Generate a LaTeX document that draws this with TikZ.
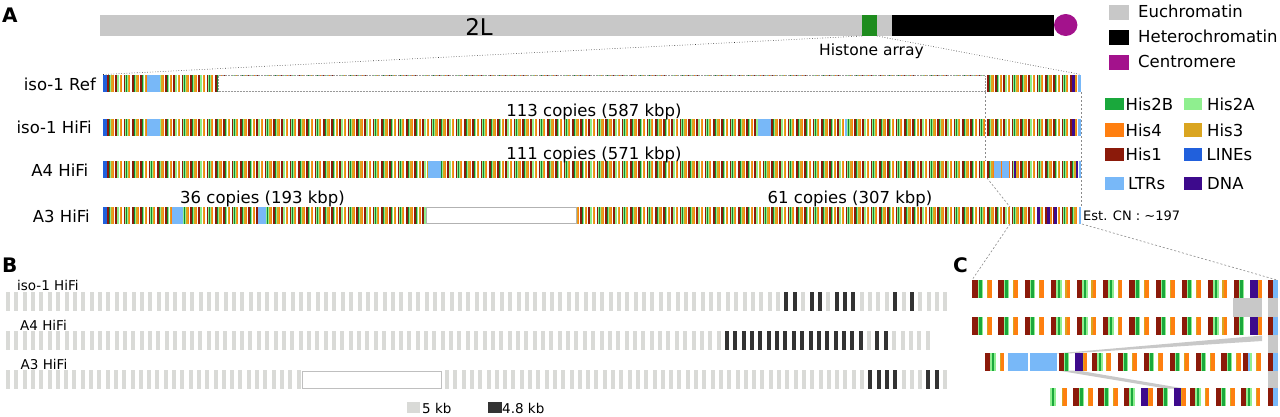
\documentclass[tikz,border=0pt]{standalone}
\usepackage{fontspec}
\setmainfont{DejaVu Sans}
\definecolor{euc}{HTML}{C8C8C8}
\definecolor{cen}{HTML}{A3128C}
\definecolor{harr}{HTML}{1E8C1E}
\definecolor{htwoB}{HTML}{1AA83C}
\definecolor{htwoA}{HTML}{8FEF8F}
\definecolor{hfour}{HTML}{FF7F10}
\definecolor{hthree}{HTML}{DAA520}
\definecolor{hone}{HTML}{8B1A0A}
\definecolor{clines}{HTML}{2160DC}
\definecolor{cltr}{HTML}{78B8F8}
\definecolor{cdna}{HTML}{3D0A8C}
\definecolor{blight}{HTML}{D9DAD7}
\definecolor{bdark}{HTML}{333333}
\definecolor{dashg}{HTML}{8A8A8A}
\newcommand\fsz[1]{\fontsize{#1}{#1}\selectfont}
% one histone copy (panel C scale)
\newcommand\hunit[4]{%
 \begin{scope}[shift={(#1,#2)},xscale=#4]
  \fill[hone] (0,0) rectangle (5.3,#3);
  \fill[htwoA] (5.3,0) rectangle (6.8,#3);
  \fill[htwoB] (6.8,0) rectangle (9.3,#3);
  \fill[htwoA] (9.3,0) rectangle (10.8,#3);
  \fill[hthree] (14.5,0) rectangle (15.7,#3);
  \fill[hfour] (15.7,0) rectangle (19.3,#3);
 \end{scope}}
% one histone copy (panel A scale)
\newcommand\aunit[3]{%
 \begin{scope}[shift={(#1,#2)}]
  \fill[hone] (0,0) rectangle (1.7,#3);
  \fill[htwoA] (1.7,0) rectangle (2.2,#3);
  \fill[htwoB!80!black] (2.2,0) rectangle (3.0,#3);
  \fill[htwoA] (3.0,0) rectangle (3.5,#3);
  \fill[hthree] (4.4,0) rectangle (5.8,#3);
  \fill[hfour] (5.8,0) rectangle (6.3,#3);
 \end{scope}}
% copy with a DNA element
\newcommand\hunitd[3]{%
 \begin{scope}[shift={(#1,#2)}]
  \fill[hone] (0,0) rectangle (5.3,#3);
  \fill[htwoA] (5.3,0) rectangle (6.8,#3);
  \fill[htwoB] (6.8,0) rectangle (9.3,#3);
  \fill[htwoA] (9.3,0) rectangle (10.8,#3);
  \fill[cdna] (16.5,0) rectangle (24,#3);
  \fill[hthree] (24,0) rectangle (25,#3);
  \fill[hfour] (25,0) rectangle (28.5,#3);
 \end{scope}}
\newcommand\copyrow[6]{\foreach \k in {0,...,#2}{\pgfmathsetmacro\xx{#1+\k*#6}\hunit{\xx}{#3}{#4}{#5}}}
\newcommand\arow[3]{\foreach \k in {0,...,#2}{\pgfmathsetmacro\xx{#1+\k*8.3}\aunit{\xx}{#3}{17}}}
\newcommand\brow[4]{\foreach \k in {0,...,#2}{\pgfmathsetmacro\xx{#1+\k*#4}\fill[blight] (\xx,#3) rectangle ++(4,19);}}
\newcommand\bdk[4]{\foreach \k in {#2}{\pgfmathsetmacro\xx{#1+\k*#4}\fill[bdark] (\xx,#3) rectangle ++(4,19);}}
\begin{document}
\begin{tikzpicture}[x=1pt,y=-1pt,
  lbl/.style={font=\fsz{16.5},inner sep=0pt},
  sml/.style={font=\fsz{13.5},inner sep=0pt},
  panel/.style={font=\bfseries\fsz{20},inner sep=0pt,anchor=base west},
  zoomline/.style={dotted,line width=0.6pt,black!80},
  gdash/.style={dashg,dash pattern=on 2pt off 2pt,line width=0.6pt}]
\useasboundingbox (0,0) rectangle (1280,416);
\fill[white] (0,0) rectangle (1280,416);

% ---------------- Panel A ----------------
\node[panel] (pA) at (2,22) {A};
\fill[euc] (100,15) rectangle (892,36);
\fill[harr] (862,15) rectangle (877,36);
\fill[black] (892,15) rectangle (1053.5,36);
\fill[cen] (1065.7,25) ellipse [x radius=11.7, y radius=11];
\node[font=\fsz{23},inner sep=0pt,anchor=base] (l2L) at (479,35) {2L};
\node[font=\fsz{15.5},inner sep=0pt,anchor=base west] (harrlbl) at (819,55) {Histone array};
\coordinate (gL) at (862,36);
\coordinate (gR) at (877,36);
\coordinate (refL) at (103,74.5);
\coordinate (refR) at (1081,74.5);
\draw[zoomline] (gL) -- (refL);
\draw[zoomline] (gR) -- (refR);

% legend 1
\fill[euc] (1108.5,5) rectangle (1128.5,20);
\fill[black] (1108.5,30) rectangle (1128.5,45);
\fill[cen] (1108.5,55) rectangle (1128.5,69.5);
\node[lbl,anchor=base west] (le1) at (1138,17.5) {Euchromatin};
\node[lbl,anchor=base west] (le2) at (1138,42.5) {Heterochromatin};
\node[lbl,anchor=base west] (le3) at (1138,67) {Centromere};

% legend 2
\fill[htwoB] (1105,98.3) rectangle (1123.5,110);
\fill[htwoA] (1183.5,98.3) rectangle (1202,110);
\fill[hfour] (1105,123.3) rectangle (1123.5,136.5);
\fill[hthree] (1183.5,123.3) rectangle (1202,136.5);
\fill[hone] (1105,148.3) rectangle (1123.5,160.5);
\fill[clines] (1183.5,148.3) rectangle (1202,160.5);
\fill[cltr] (1105,176.7) rectangle (1123.5,190);
\fill[cdna] (1183.5,176.7) rectangle (1202,190);
\node[lbl,anchor=base west] (k1) at (1125.5,110) {His2B};
\node[lbl,anchor=base west] (k2) at (1207,110) {His2A};
\node[lbl,anchor=base west] (k3) at (1125.5,136) {His4};
\node[lbl,anchor=base west] (k4) at (1207,136) {His3};
\node[lbl,anchor=base west] (k5) at (1125.5,160.5) {His1};
\node[lbl,anchor=base west] (k6) at (1206.5,160.5) {LINEs};
\node[lbl,anchor=base west] (k7) at (1128,189.5) {LTRs};
\node[lbl,anchor=base west] (k8) at (1207,189.5) {DNA};

% dashed zoom lines inside A
\coordinate (z1t) at (985,92);
\coordinate (z1b) at (985,161);
\coordinate (z2t) at (1081.7,92);
\coordinate (z2b) at (1081.7,207);
\coordinate (z3t) at (987,178);
\coordinate (z3b) at (1010,207);
\coordinate (z4t) at (1010,224);
\coordinate (z5t) at (1082,224);
\coordinate (cTL) at (972,280);
\coordinate (cTR) at (1277,280);
\draw[gdash] (z1t) -- (z1b);
\draw[gdash] (z2t) -- (z2b);
\draw[gdash] (z3t) -- (z3b);
\draw[gdash] (z4t) -- (cTL);
\draw[gdash] (z5t) -- (cTR);

% track labels
\node[lbl,anchor=base east] (t1) at (96,90) {iso-1 Ref};
\node[lbl,anchor=base east] (t2) at (92,133.5) {iso-1 HiFi};
\node[lbl,anchor=base east] (t3) at (88.5,176.5) {A4 HiFi};
\node[lbl,anchor=base east] (t4) at (90,222.5) {A3 HiFi};

% iso-1 Ref
\arow{107}{116}{75}
\fill[clines] (103,75) rectangle (107,92);
\fill[cltr] (147,75) rectangle (160,92);
\draw[gray!80,densely dotted,fill=white,line width=0.5pt] (218,75.6) rectangle (985,91.6);
\fill[cdna] (1072,75) rectangle (1075,92);
\fill[cltr] (1078,75) rectangle (1081,92);
% iso-1 HiFi
\arow{107}{116}{119}
\fill[clines] (103,119) rectangle (107,136);
\fill[cltr] (147,119) rectangle (160,136);
\fill[cltr] (758,119) rectangle (771,136);
\fill[cltr] (845,119) rectangle (847,136);
\fill[cdna] (1072,119) rectangle (1075,136);
\fill[cltr] (1078,119) rectangle (1081,136);
% A4 HiFi
\arow{107}{116}{161}
\fill[clines] (103,161) rectangle (107,178);
\fill[cltr] (428,161) rectangle (441,178);
\fill[cltr] (994,161) rectangle (1001,178);
\fill[cltr] (1002,161) rectangle (1009,178);
\fill[cdna] (1014,161) rectangle (1016,178);
\fill[cdna] (1076,161) rectangle (1078,178);
\fill[cltr] (1079,161) rectangle (1081,178);
% A3 HiFi
\arow{107}{116}{207}
\fill[clines] (103,207) rectangle (107,224);
\fill[cltr] (172,207) rectangle (183,224);
\fill[cltr] (258,207) rectangle (266,224);
\draw[gray!60,fill=white,line width=0.8pt] (426,207.5) rectangle (576,223.5);
\fill[cdna] (1037,207) rectangle (1039.5,224);
\fill[cdna] (1047,207) rectangle (1049.5,224);
\fill[cdna] (1054,207) rectangle (1056.5,224);
\fill[cltr] (1079,207) rectangle (1081,224);

% copy-number labels
\node[lbl,anchor=base] (c1) at (594,116) {113 copies (587 kbp)};
\node[lbl,anchor=base] (c2) at (594,159) {111 copies (571 kbp)};
\node[lbl,anchor=base] (c3) at (262.5,203) {36 copies (193 kbp)};
\node[lbl,anchor=base] (c4) at (850,203) {61 copies (307 kbp)};
\node[font=\fsz{13},inner sep=0pt,anchor=base west] (est) at (1083,220.5) {Est. CN : \textasciitilde197};

% ---------------- Panel B ----------------
\node[panel] (pB) at (2,272) {B};
\node[sml,anchor=base west] (b1) at (17,290) {iso-1 HiFi};
\node[sml,anchor=base west] (b2) at (20,330) {A4 HiFi};
\node[sml,anchor=base west] (b3) at (20.5,369) {A3 HiFi};
\brow{6}{112}{292}{8.37}
\bdk{6}{93,94,96,97,99,100,101,106,108}{292}{8.37}
\brow{6}{110}{331}{8.36}
\bdk{6}{86,...,102,104,105}{331}{8.36}
\brow{6}{35}{370}{8.3}
\draw[gray!50,fill=white,line width=0.8pt] (302.5,371) rectangle (441,388.5);
\brow{445}{60}{370}{8.3}
\bdk{445}{51,52,53,54,58,59}{370}{8.3}
\fill[blight] (407,402) rectangle (420,413);
\node[sml,anchor=base west] (bl1) at (422,413) {5 kb};
\fill[bdark] (488,402) rectangle (502,413);
\node[sml,anchor=base west] (bl2) at (502,413) {4.8 kb};

% ---------------- Panel C ----------------
\node[panel] (pC) at (953,272) {C};
% connecting bands
\fill[euc] (1233,298) rectangle (1262,317);
\fill[euc] (1268,298) rectangle (1278,388);
\fill[euc] (1262,335.5) -- (1262,341) -- (1068,353.5) -- (1056,353.5) -- cycle;
\fill[euc] (1058,370.5) -- (1078,370.5) -- (1184,388.5) -- (1166,388.5) -- cycle;
% row 1 and 2
\foreach \yy in {280,317}{
  \copyrow{972.3}{9}{\yy}{18}{1}{26.17}
  \hunitd{1233.5}{\yy}{18}
  \fill[hone] (1268,\yy) rectangle (1273,\yy+18);
  \fill[cltr] (1273,\yy) rectangle (1278,\yy+18);
}
% row 3
\hunit{985}{353}{18}{1}
\fill[cltr] (1008,353) rectangle (1028,371);
\fill[cltr] (1030,353) rectangle (1057,371);
\hunitd{1058.5}{353}{18}
\copyrow{1091.7}{5}{353}{18}{1}{25.95}
\fill[hone] (1243,353) rectangle (1247.5,371);
\fill[cltr] (1248,353) rectangle (1249.5,371);
\fill[htwoA] (1249.5,353) rectangle (1252,371);
\fill[hthree] (1256,353) rectangle (1257,371);
\fill[hfour] (1257,353) rectangle (1261,371);
\fill[hone] (1268,353) rectangle (1273,371);
\fill[cltr] (1273,353) rectangle (1278,371);
% row 4
\fill[htwoA] (1050,388) rectangle (1051.5,406);
\fill[htwoB] (1051.5,388) rectangle (1054,406);
\fill[htwoA] (1054,388) rectangle (1055.5,406);
\fill[hthree] (1062,388) rectangle (1063,406);
\fill[hfour] (1063,388) rectangle (1067,406);
\hunit{1073.3}{388}{18}{1}
\hunit{1098.3}{388}{18}{1}
\hunitd{1124}{388}{18}
\hunitd{1157.3}{388}{18}
\hunit{1190}{388}{18}{1}
\hunit{1215.5}{388}{18}{1}
\hunit{1241}{388}{18}{1}
\fill[hone] (1268,388) rectangle (1273,406);
\fill[cltr] (1273,388) rectangle (1278,406);
\end{tikzpicture}
\end{document}
